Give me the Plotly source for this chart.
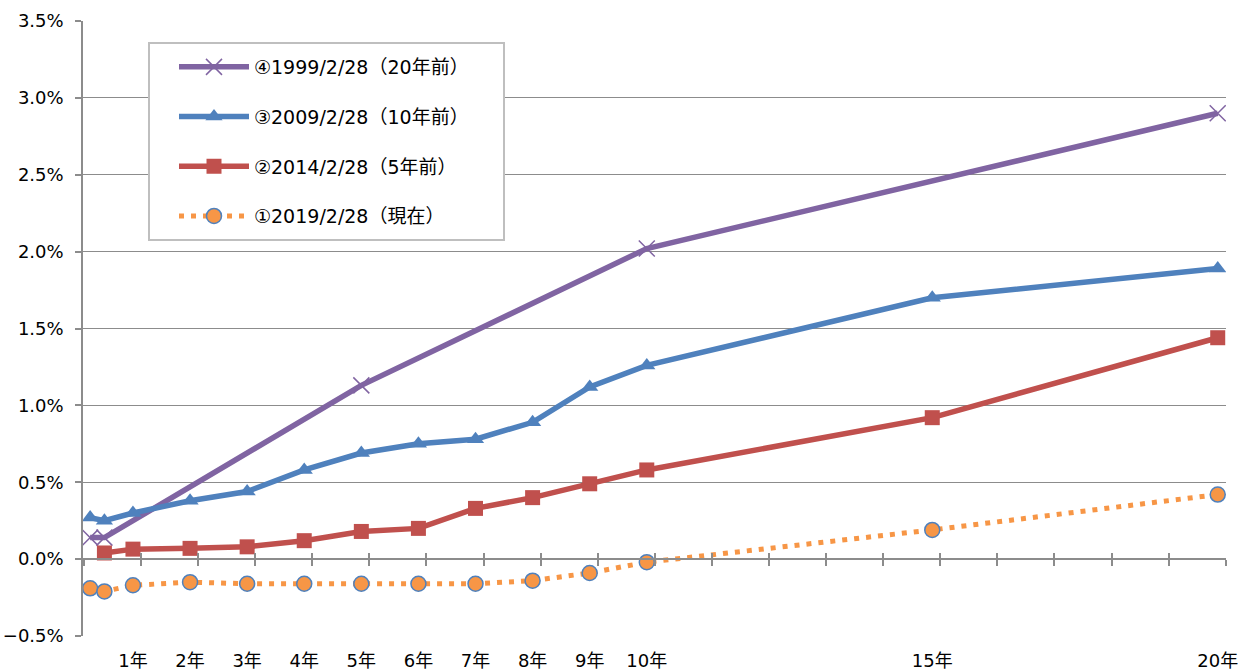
import plotly.graph_objects as go

# Maturities (years) on the horizontal axis
maturity = [0.25, 0.5, 1, 2, 3, 4, 5, 6, 7, 8, 9, 10, 15, 20]

# Yields (%) by reference date
y1999 = [0.14, 0.14, None, None, None, None, 1.13, None, None, None, None, 2.02, None, 2.90]
y2009 = [0.27, 0.25, 0.30, 0.38, 0.44, 0.58, 0.69, 0.75, 0.78, 0.89, 1.12, 1.26, 1.70, 1.89]
y2014 = [None, 0.04, 0.065, 0.07, 0.08, 0.12, 0.18, 0.20, 0.33, 0.40, 0.49, 0.58, 0.92, 1.44]
y2019 = [-0.19, -0.21, -0.17, -0.15, -0.16, -0.16, -0.16, -0.16, -0.16, -0.14, -0.09, -0.02, 0.19, 0.42]

names = ["④1999/2/28（20年前）", "③2009/2/28（10年前）", "②2014/2/28（5年前）", "①2019/2/28（現在）"]

tick_vals = [1, 2, 3, 4, 5, 6, 7, 8, 9, 10, 15, 20]
tick_text = ["1年", "2年", "3年", "4年", "5年", "6年", "7年", "8年", "9年", "10年", "15年", "20年"]

FONT = "DejaVu Sans, Verdana, Noto Sans CJK JP, sans-serif"
GRID = "#8c8c8c"
X_MIN, X_MAX = 0.125, 20.145
Y_MIN, Y_MAX = -0.5, 3.5

# plot area in pixels
L, R, T, B = 83, 1226, 21, 636
W, H = R - L, B - T


def px_x(p):
    return (p - L) / W


def px_y(p):
    return 1 - (p - T) / H


fig = go.Figure()

fig.add_trace(go.Scatter(
    x=maturity, y=y1999, name=names[0], mode="lines+markers", connectgaps=True,
    line=dict(color="#8064A2", width=5.5),
    marker=dict(symbol="x-thin", size=16, line=dict(color="#8064A2", width=1.5)),
    legendgroup="a",
))
fig.add_trace(go.Scatter(
    x=maturity, y=y2009, name=names[1], mode="lines+markers",
    line=dict(color="#4F81BD", width=5.5),
    marker=dict(symbol="triangle-up", size=15, color="#4F81BD"),
    legendgroup="b",
))
fig.add_trace(go.Scatter(
    x=maturity, y=y2014, name=names[2], mode="lines+markers",
    line=dict(color="#C0504D", width=5.5),
    marker=dict(symbol="square", size=15, color="#C0504D"),
    legendgroup="c",
))
fig.add_trace(go.Scatter(
    x=maturity, y=y2019, name=names[3], mode="lines+markers",
    line=dict(color="#F79646", width=5, dash="5px,7px"),
    marker=dict(symbol="circle", size=15, color="#F79646", line=dict(color="#4F81BD", width=1.5)),
    legendgroup="d",
))

# legend frame
fig.add_shape(
    type="rect", xref="paper", yref="paper",
    x0=px_x(149), x1=px_x(504), y0=px_y(240), y1=px_y(43),
    line=dict(color="#bfbfbf", width=2), fillcolor="white", layer="above",
)

fig.update_layout(
    width=1238, height=670,
    margin=dict(l=L, r=1238 - R, t=T, b=670 - B, autoexpand=False),
    paper_bgcolor="white", plot_bgcolor="white",
    font=dict(family=FONT, size=18, color="#000000"),
    showlegend=True,
    legend=dict(
        x=px_x(174), y=px_y(48), xanchor="left", yanchor="top",
        bgcolor="rgba(0,0,0,0)", borderwidth=0,
        font=dict(family=FONT, size=19, color="#000000"),
        tracegroupgap=22, itemwidth=70,
    ),
    xaxis=dict(
        range=[X_MIN, X_MAX], tickvals=tick_vals, ticktext=tick_text,
        showgrid=False, zeroline=False, showline=False, ticks="", automargin=False,
        ticklabeloverflow="allow",
        ticklabelstandoff=12, tickfont=dict(family=FONT, size=18),
    ),
    yaxis=dict(
        range=[Y_MIN, Y_MAX], dtick=0.5, tick0=0, tickformat=".1f", ticksuffix="%",
        showgrid=True, gridcolor=GRID, gridwidth=1.2, zeroline=False, automargin=False,
        ticklabeloverflow="allow",
        showline=True, linecolor=GRID, linewidth=1.5,
        ticks="outside", ticklen=6, tickcolor=GRID, tickwidth=1.5,
        ticklabelstandoff=8, tickfont=dict(family=FONT, size=18),
    ),
    # horizontal axis line crossing at 0% with cross tick marks
    xaxis2=dict(
        overlaying="x", anchor="free", position=(0 - Y_MIN) / (Y_MAX - Y_MIN),
        range=[X_MIN, X_MAX], tick0=0.14, dtick=1, showticklabels=False, automargin=False,
        showgrid=False, zeroline=False, showline=True, linecolor=GRID, linewidth=1.5,
        ticks="outside", ticklen=6, tickcolor=GRID, tickwidth=1.5,
    ),
    xaxis3=dict(
        overlaying="x", anchor="free", position=(0 - Y_MIN) / (Y_MAX - Y_MIN),
        range=[X_MIN, X_MAX], tick0=0.14, dtick=1, showticklabels=False, automargin=False,
        showgrid=False, zeroline=False, showline=False,
        ticks="inside", ticklen=6, tickcolor=GRID, tickwidth=1.5,
    ),
)

# invisible traces to activate the overlay axes
fig.add_trace(go.Scatter(x=[X_MIN], y=[None], xaxis="x2", showlegend=False, hoverinfo="skip"))
fig.add_trace(go.Scatter(x=[X_MIN], y=[None], xaxis="x3", showlegend=False, hoverinfo="skip"))

fig.write_html("out.html")
